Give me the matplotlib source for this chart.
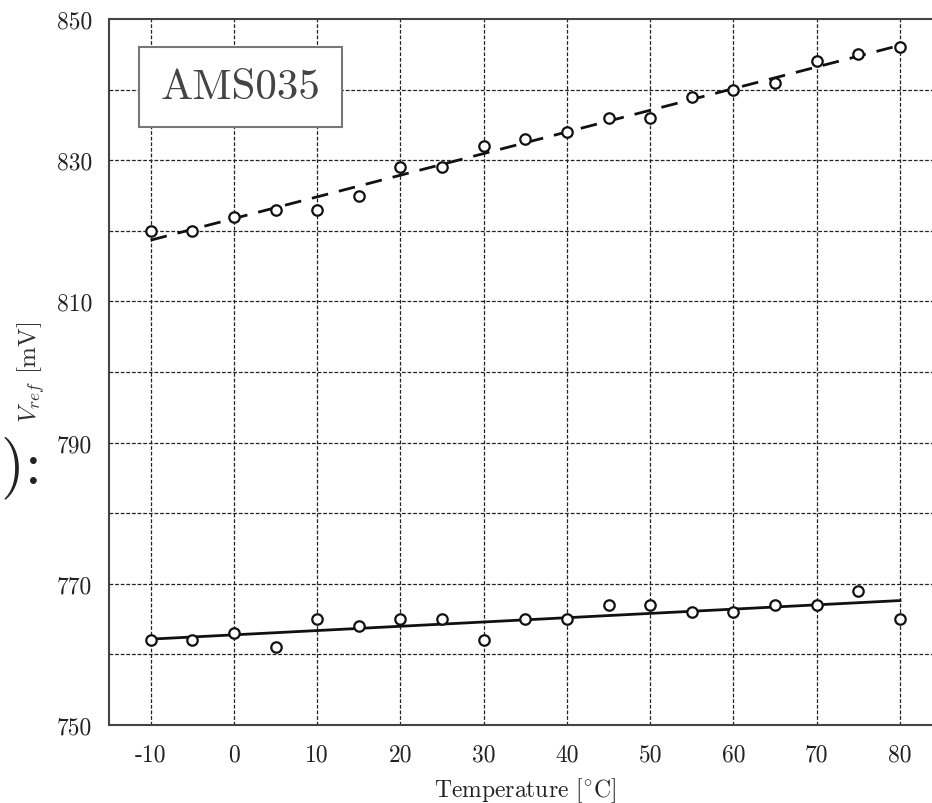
import matplotlib
matplotlib.use("Agg")
import matplotlib.pyplot as plt
import numpy as np

plt.rcParams['font.family'] = 'serif'
plt.rcParams['font.serif'] = ['cmr10', 'DejaVu Serif']
plt.rcParams['mathtext.fontset'] = 'cm'
plt.rcParams['axes.unicode_minus'] = False

temperature = [-10, -5, 0, 5, 10, 15, 20, 25, 30, 35, 40, 45, 50, 55, 60, 65, 70, 75, 80]
vref_upper = [820, 820, 822, 823, 823, 825, 829, 829, 832, 833, 834, 836, 836, 839, 840, 841, 844, 845, 846]
vref_lower = [762, 762, 763, 761, 765, 764, 765, 765, 762, 765, 765, 767, 767, 766, 766, 767, 767, 769, 765]

x_ticks = [-10, 0, 10, 20, 30, 40, 50, 60, 70, 80]
x_ticklabels = ['-10', '0', '10', '20', '30', '40', '50', '60', '70', '80']
y_ticks = [750, 770, 790, 810, 830, 850]
y_ticklabels = ['750', '770', '790', '810', '830', '850']
y_grid = [760, 770, 780, 790, 800, 810, 820, 830, 840]
x_grid = x_ticks

W, H = 932, 804
fig = plt.figure(figsize=(W / 100, H / 100), dpi=100)
ax = fig.add_axes([109 / W, 1 - 726 / H, (941.6 - 109) / W, (726 - 20) / H])
ax.set_xlim(-15, 85)
ax.set_ylim(750, 850)

for xv in x_grid:
    ax.axvline(xv, color='#222222', lw=0.9, ls=(0, (3, 1.5)), zorder=1)
for yv in y_grid:
    ax.axhline(yv, color='#222222', lw=0.9, ls=(0, (3, 1.5)), zorder=1)

t = np.array(temperature, dtype=float)
pu = np.polyfit(t, np.array(vref_upper, dtype=float), 1)
pl = np.polyfit(t, np.array(vref_lower, dtype=float), 1)
xl = np.array([t.min(), t.max()])
ax.plot(xl, np.polyval(pu, xl), color='#111111', lw=2.0, ls=(0, (6, 4)), zorder=2)
ax.plot(xl, np.polyval(pl, xl), color='#111111', lw=2.0, ls='-', zorder=2)

ax.plot(temperature, vref_upper, 'o', ms=7.5, mfc='white', mec='#111111', mew=1.6, zorder=3)
ax.plot(temperature, vref_lower, 'o', ms=7.5, mfc='white', mec='#111111', mew=1.6, zorder=3)

ax.set_xticks(x_ticks)
ax.set_xticklabels(x_ticklabels)
ax.set_yticks(y_ticks)
ax.set_yticklabels(y_ticklabels)
ax.tick_params(length=0, labelsize=17, labelcolor='#222222')
ax.tick_params(axis='y', pad=12)
ax.tick_params(axis='x', pad=13)

for s in ['left', 'bottom', 'top']:
    ax.spines[s].set_color('#444444')
    ax.spines[s].set_linewidth(1.5)
ax.spines['right'].set_visible(False)

ax.set_xlabel('Temperature [$^{\\circ}$C]', fontsize=17, color='#222222', labelpad=7)

fig.text(31 / W, 1 - 372 / H, '$V_{ref}$ [mV]', rotation=90, fontsize=18,
         color='#333333', ha='center', va='center')

fig.text(42 / W, 1 - 468 / H, 's):', fontsize=44, color='#222222', ha='right', va='center')

ax.text(-8.8, 840.4, 'AMS035', fontsize=31, color='#444444', ha='left', va='center',
        bbox=dict(boxstyle='square,pad=0.5', fc='white', ec='#777777', lw=1.5), zorder=5)

fig.savefig('out.png', dpi=100)
